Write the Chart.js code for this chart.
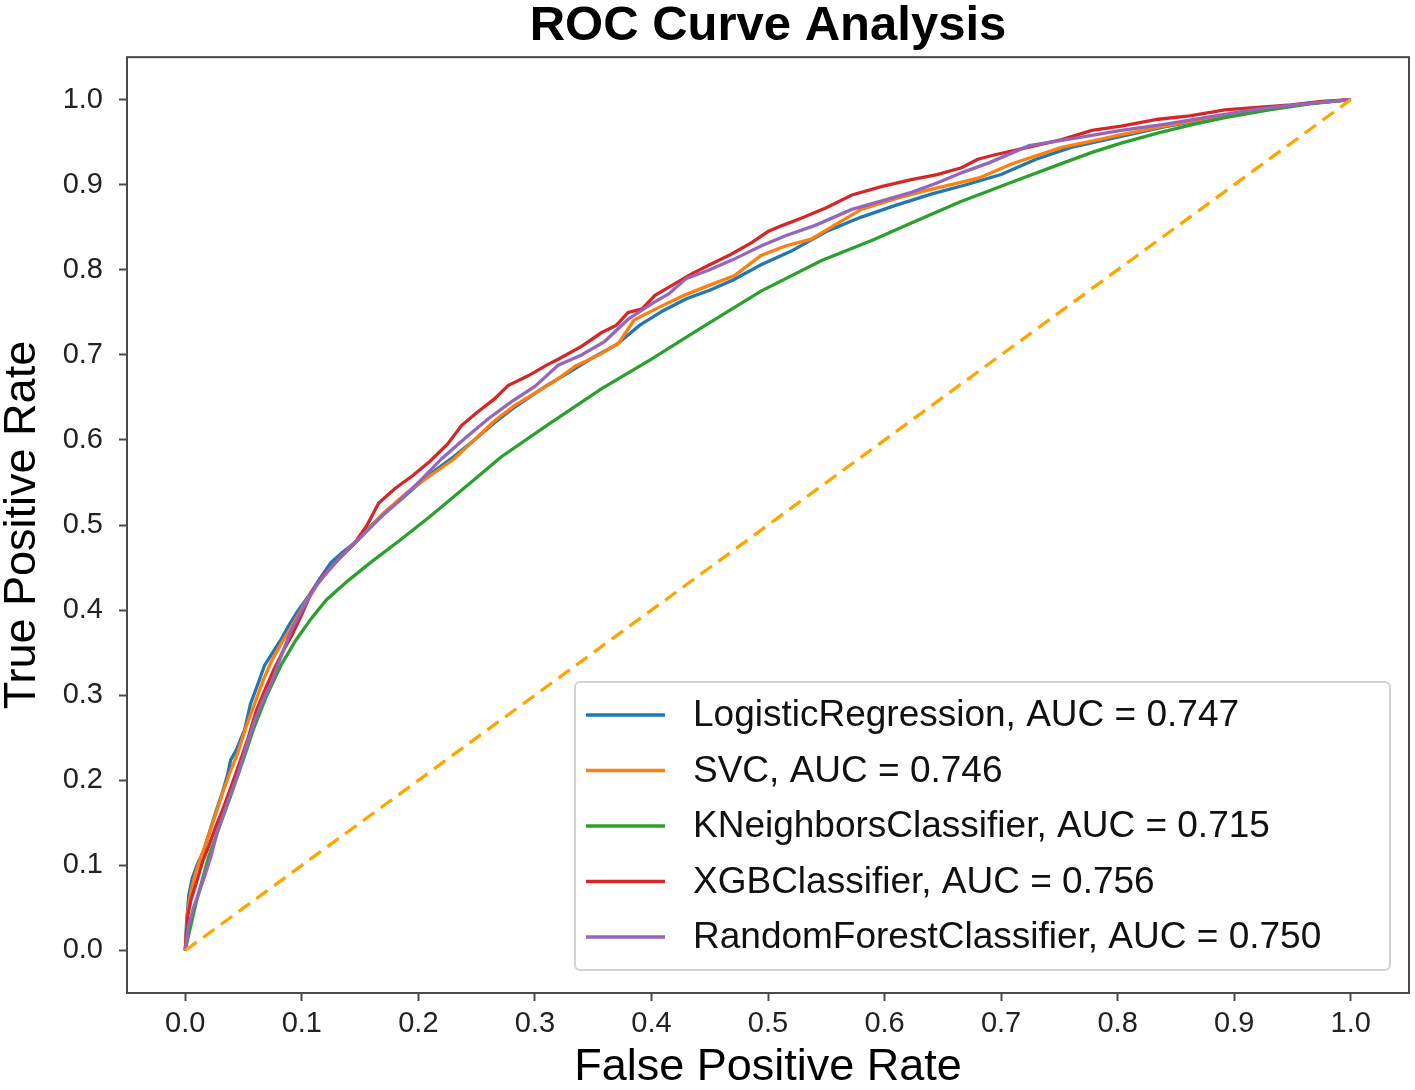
<!DOCTYPE html>
<html>
<head>
<meta charset="utf-8">
<script src="https://cdn.jsdelivr.net/npm/chart.js@4.4.1/dist/chart.umd.min.js"></script>
<style>
html,body{margin:0;padding:0;background:#fff;}
#wrap{width:1415px;height:1090px;position:relative;}
</style>
</head>
<body>
<div id="wrap"><canvas id="c" width="1415" height="1090"></canvas></div>
<script>
// ---------- DATA ----------
const chartTitle = 'ROC Curve Analysis';
const xAxisTitle = 'False Positive Rate';
const yAxisTitle = 'True Positive Rate';

const tickValues = [0, 0.1, 0.2, 0.3, 0.4, 0.5, 0.6, 0.7, 0.8, 0.9, 1.0];
const tickLabels = ['0.0', '0.1', '0.2', '0.3', '0.4', '0.5', '0.6', '0.7', '0.8', '0.9', '1.0'];

const seriesLabels = [
  'LogisticRegression, AUC = 0.747',
  'SVC, AUC = 0.746',
  'KNeighborsClassifier, AUC = 0.715',
  'XGBClassifier, AUC = 0.756',
  'RandomForestClassifier, AUC = 0.750'
];

const lrX = [0, 0.001, 0.003, 0.006, 0.010, 0.016, 0.021, 0.026, 0.031, 0.036, 0.039, 0.044, 0.051, 0.056, 0.062, 0.068, 0.074, 0.082, 0.088, 0.096, 0.106, 0.115, 0.125, 0.135, 0.148, 0.160, 0.171, 0.185, 0.200, 0.215, 0.230, 0.248, 0.265, 0.280, 0.295, 0.310, 0.330, 0.350, 0.370, 0.390, 0.410, 0.430, 0.450, 0.470, 0.494, 0.520, 0.550, 0.580, 0.610, 0.640, 0.670, 0.700, 0.730, 0.760, 0.800, 0.840, 0.880, 0.920, 0.960, 1.0];
const lrY = [0, 0.030, 0.065, 0.085, 0.100, 0.118, 0.140, 0.162, 0.182, 0.205, 0.224, 0.236, 0.260, 0.290, 0.312, 0.335, 0.348, 0.365, 0.380, 0.398, 0.417, 0.436, 0.456, 0.468, 0.482, 0.500, 0.515, 0.530, 0.548, 0.565, 0.580, 0.600, 0.620, 0.636, 0.650, 0.664, 0.680, 0.697, 0.712, 0.735, 0.752, 0.766, 0.776, 0.788, 0.806, 0.822, 0.845, 0.862, 0.876, 0.889, 0.900, 0.912, 0.930, 0.944, 0.956, 0.968, 0.978, 0.988, 0.995, 1.0];

const svcX = [0, 0.002, 0.005, 0.009, 0.014, 0.020, 0.026, 0.032, 0.038, 0.045, 0.052, 0.060, 0.067, 0.074, 0.082, 0.090, 0.100, 0.110, 0.122, 0.135, 0.150, 0.171, 0.190, 0.210, 0.230, 0.248, 0.265, 0.282, 0.300, 0.318, 0.335, 0.355, 0.372, 0.385, 0.405, 0.428, 0.450, 0.471, 0.494, 0.515, 0.537, 0.560, 0.580, 0.610, 0.638, 0.660, 0.681, 0.710, 0.752, 0.780, 0.803, 0.840, 0.880, 0.920, 0.960, 1.0];
const svcY = [0, 0.045, 0.070, 0.092, 0.112, 0.135, 0.160, 0.185, 0.208, 0.232, 0.262, 0.292, 0.318, 0.340, 0.360, 0.378, 0.402, 0.425, 0.445, 0.465, 0.485, 0.515, 0.538, 0.558, 0.577, 0.600, 0.622, 0.640, 0.655, 0.670, 0.687, 0.700, 0.714, 0.741, 0.755, 0.770, 0.782, 0.793, 0.817, 0.828, 0.836, 0.855, 0.871, 0.884, 0.894, 0.901, 0.908, 0.925, 0.944, 0.952, 0.959, 0.969, 0.979, 0.988, 0.995, 1.0];

const knnX = [0, 0.004, 0.010, 0.020, 0.030, 0.039, 0.050, 0.059, 0.070, 0.082, 0.095, 0.108, 0.121, 0.140, 0.160, 0.185, 0.210, 0.245, 0.271, 0.310, 0.357, 0.400, 0.443, 0.494, 0.546, 0.590, 0.623, 0.665, 0.709, 0.750, 0.778, 0.803, 0.835, 0.865, 0.892, 0.930, 0.965, 1.0];
const knnY = [0, 0.025, 0.060, 0.110, 0.148, 0.182, 0.225, 0.262, 0.300, 0.335, 0.365, 0.390, 0.412, 0.435, 0.457, 0.483, 0.510, 0.550, 0.580, 0.617, 0.660, 0.695, 0.732, 0.775, 0.811, 0.835, 0.855, 0.880, 0.903, 0.924, 0.938, 0.949, 0.961, 0.971, 0.979, 0.988, 0.995, 1.0];

const xgbX = [0, 0.002, 0.005, 0.010, 0.015, 0.020, 0.026, 0.032, 0.040, 0.047, 0.054, 0.061, 0.068, 0.076, 0.084, 0.092, 0.100, 0.108, 0.118, 0.130, 0.145, 0.156, 0.166, 0.180, 0.195, 0.210, 0.225, 0.237, 0.250, 0.265, 0.277, 0.295, 0.310, 0.320, 0.340, 0.357, 0.370, 0.380, 0.392, 0.403, 0.418, 0.434, 0.450, 0.468, 0.486, 0.500, 0.512, 0.529, 0.550, 0.572, 0.598, 0.623, 0.645, 0.666, 0.680, 0.694, 0.720, 0.752, 0.778, 0.803, 0.835, 0.862, 0.892, 0.920, 0.949, 0.975, 1.0];
const xgbY = [0, 0.040, 0.060, 0.082, 0.105, 0.122, 0.145, 0.165, 0.195, 0.222, 0.250, 0.282, 0.305, 0.330, 0.352, 0.372, 0.395, 0.420, 0.440, 0.458, 0.478, 0.500, 0.526, 0.543, 0.558, 0.575, 0.595, 0.617, 0.632, 0.648, 0.664, 0.676, 0.688, 0.695, 0.710, 0.726, 0.735, 0.750, 0.754, 0.770, 0.782, 0.795, 0.806, 0.818, 0.832, 0.845, 0.852, 0.861, 0.873, 0.888, 0.898, 0.906, 0.912, 0.920, 0.930, 0.935, 0.943, 0.953, 0.964, 0.969, 0.977, 0.981, 0.988, 0.991, 0.994, 0.998, 1.0];

const rfX = [0, 0.003, 0.007, 0.011, 0.016, 0.022, 0.028, 0.034, 0.040, 0.045, 0.052, 0.059, 0.066, 0.074, 0.082, 0.091, 0.102, 0.114, 0.126, 0.140, 0.155, 0.170, 0.185, 0.200, 0.220, 0.240, 0.260, 0.280, 0.300, 0.320, 0.340, 0.360, 0.380, 0.400, 0.415, 0.430, 0.450, 0.470, 0.494, 0.515, 0.540, 0.572, 0.600, 0.623, 0.645, 0.666, 0.690, 0.724, 0.760, 0.803, 0.840, 0.880, 0.920, 0.960, 1.0];
const rfY = [0, 0.030, 0.050, 0.065, 0.085, 0.110, 0.142, 0.165, 0.188, 0.206, 0.238, 0.268, 0.292, 0.315, 0.345, 0.377, 0.405, 0.432, 0.452, 0.472, 0.492, 0.512, 0.530, 0.550, 0.578, 0.602, 0.625, 0.645, 0.663, 0.688, 0.700, 0.716, 0.742, 0.760, 0.772, 0.790, 0.800, 0.812, 0.828, 0.840, 0.852, 0.871, 0.882, 0.891, 0.902, 0.914, 0.926, 0.946, 0.954, 0.964, 0.971, 0.980, 0.989, 0.995, 1.0];

const chanceX = [0, 1];
const chanceY = [0, 1];

// ---------- STYLE ----------
const FONT = "'Liberation Sans', Arial, Helvetica, sans-serif";
const colors = ['#1f77b4', '#ff7f0e', '#2ca02c', '#d62728', '#9467bd'];

function pts(xs, ys) { return xs.map((x, i) => ({ x: x, y: ys[i] })); }

const seriesData = [pts(lrX, lrY), pts(svcX, svcY), pts(knnX, knnY), pts(xgbX, xgbY), pts(rfX, rfY)];

const datasets = seriesData.map((d, i) => ({
  label: seriesLabels[i],
  data: d,
  showLine: true,
  borderColor: colors[i],
  backgroundColor: colors[i],
  borderWidth: 3.3,
  pointRadius: 0,
  fill: false,
  tension: 0,
  order: 10 - i
}));
datasets.push({
  label: 'chance',
  data: pts(chanceX, chanceY),
  showLine: true,
  borderColor: '#ffa500',
  borderWidth: 3.3,
  borderDash: [14, 8],
  pointRadius: 0,
  fill: false,
  order: 1
});

const frameAndLegend = {
  id: 'frameAndLegend',
  afterDatasetsDraw(chart) {
    const ctx = chart.ctx;
    const a = chart.chartArea;
    ctx.save();
    // axes frame
    ctx.strokeStyle = '#4a4a4a';
    ctx.lineWidth = 2;
    ctx.strokeRect(a.left, a.top, a.right - a.left, a.bottom - a.top);

    // legend box (lower right)
    const boxW = 815, boxH = 288;
    const bx = a.right - 19 - boxW;
    const by = a.bottom - 23 - boxH;
    ctx.beginPath();
    if (ctx.roundRect) ctx.roundRect(bx, by, boxW, boxH, 5); else ctx.rect(bx, by, boxW, boxH);
    ctx.fillStyle = 'rgba(255,255,255,0.85)';
    ctx.fill();
    ctx.strokeStyle = '#d2d2d2';
    ctx.lineWidth = 2;
    ctx.stroke();

    ctx.font = '37px ' + FONT;
    ctx.textBaseline = 'middle';
    ctx.textAlign = 'left';
    for (let i = 0; i < seriesLabels.length; i++) {
      const yy = by + 33 + i * 55.5;
      ctx.beginPath();
      ctx.moveTo(bx + 11, yy);
      ctx.lineTo(bx + 90, yy);
      ctx.strokeStyle = colors[i];
      ctx.lineWidth = 3.5;
      ctx.setLineDash([]);
      ctx.stroke();
      ctx.fillStyle = '#111';
      ctx.fillText(seriesLabels[i], bx + 118, yy + 1);
    }
    ctx.restore();
  }
};

const axisCommon = {
  type: 'linear',
  min: -0.05,
  max: 1.05,
  afterBuildTicks: (s) => { s.ticks = tickValues.map(v => ({ value: v })); },
  grid: { display: true, drawOnChartArea: false, drawTicks: true, tickLength: 8, tickWidth: 2, tickColor: '#4a4a4a', color: '#4a4a4a' },
  border: { display: false }
};

new Chart(document.getElementById('c'), {
  type: 'scatter',
  data: { datasets: datasets },
  options: {
    responsive: false,
    animation: false,
    devicePixelRatio: 1,
    layout: { padding: { left: 0, right: 6, top: 0, bottom: 0 } },
    plugins: {
      legend: { display: false },
      tooltip: { enabled: false },
      title: {
        display: true,
        fullSize: false,
        text: chartTitle,
        color: '#000',
        font: { family: FONT, size: 49, weight: 'bold', lineHeight: 0.86 },
        padding: { top: 5, bottom: 10 }
      }
    },
    scales: {
      x: Object.assign({}, axisCommon, {
        position: 'bottom',
        afterFit: (s) => { s.height = 97; },
        ticks: { font: { family: FONT, size: 29 }, color: '#222', padding: 6, maxRotation: 0, autoSkip: false,
                 callback: (v, i) => tickLabels[i] },
        title: { display: true, text: xAxisTitle, color: '#000', font: { family: FONT, size: 45, lineHeight: 1 }, padding: 0 }
      }),
      y: Object.assign({}, axisCommon, {
        position: 'left',
        afterFit: (s) => { s.width = 127; },
        ticks: { font: { family: FONT, size: 29 }, color: '#222', padding: 16, autoSkip: false,
                 callback: (v, i) => tickLabels[i] },
        title: { display: true, text: yAxisTitle, color: '#000', font: { family: FONT, size: 45, lineHeight: 1 }, padding: 0 }
      })
    }
  },
  plugins: [frameAndLegend]
});
</script>
</body>
</html>
